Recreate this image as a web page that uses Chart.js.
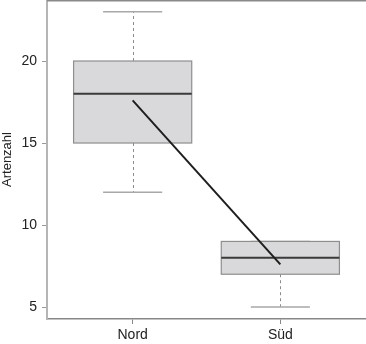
<!DOCTYPE html>
<html>
<head>
<meta charset="utf-8">
<script src="https://cdn.jsdelivr.net/npm/chart.js@4"></script>
<style>
  html, body { margin: 0; padding: 0; background: #fff; }
  #wrap { width: 366px; height: 344px; }
</style>
</head>
<body>
<div id="wrap"><canvas id="chart" width="366" height="344"></canvas></div>
<script>
// ==================== DATA ====================
const categories = ['Nord', 'Süd'];
const positions = [1, 2];
const whiskerLow = [12, 5];
const q1 = [15, 7];
const median = [18, 8];
const q3 = [20, 9];
const whiskerHigh = [23, 9];
const means = [17.6, 7.6];
const yTicks = [5, 10, 15, 20];

// ==================== BOX PLOT PLUGIN ====================
const boxPlugin = {
    id: 'boxes',
    beforeDatasetsDraw(chart) {
        const ctx = chart.ctx;
        const xs = chart.scales.x;
        const ys = chart.scales.y;
        const area = chart.chartArea;

        // top frame line
        ctx.save();
        ctx.strokeStyle = '#8a8a8a';
        ctx.lineWidth = 1.5;
        ctx.beginPath();
        ctx.moveTo(area.left, area.top + 0.75);
        ctx.lineTo(area.right, area.top + 0.75);
        ctx.stroke();

        positions.forEach((p, i) => {
            const cx = Math.round(xs.getPixelForValue(p)) + 0.5;
            const bl = xs.getPixelForValue(p - 0.4);
            const br = xs.getPixelForValue(p + 0.4);
            const cl = xs.getPixelForValue(p - 0.2);
            const cr = xs.getPixelForValue(p + 0.2);
            const yq1 = ys.getPixelForValue(q1[i]);
            const yq3 = ys.getPixelForValue(q3[i]);
            const ymed = ys.getPixelForValue(median[i]);
            const ylo = ys.getPixelForValue(whiskerLow[i]);
            const yhi = ys.getPixelForValue(whiskerHigh[i]);

            // whiskers (dashed)
            ctx.strokeStyle = '#8c8c8c';
            ctx.lineWidth = 1;
            ctx.setLineDash([3, 3]);
            ctx.beginPath();
            ctx.moveTo(cx, yq3); ctx.lineTo(cx, yhi);
            ctx.moveTo(cx, yq1); ctx.lineTo(cx, ylo);
            ctx.stroke();
            ctx.setLineDash([]);

            // caps
            ctx.strokeStyle = '#a8a8a8';
            ctx.lineWidth = 1.5;
            ctx.beginPath();
            ctx.moveTo(cl, yhi); ctx.lineTo(cr, yhi);
            ctx.moveTo(cl, ylo); ctx.lineTo(cr, ylo);
            ctx.stroke();

            // box
            ctx.fillStyle = '#d9d9db';
            ctx.fillRect(bl, yq3, br - bl, yq1 - yq3);
            ctx.strokeStyle = '#8e8e8e';
            ctx.lineWidth = 1.2;
            ctx.strokeRect(bl, yq3, br - bl, yq1 - yq3);

            // median
            ctx.strokeStyle = '#3a3a3a';
            ctx.lineWidth = 2;
            ctx.beginPath();
            ctx.moveTo(bl, ymed); ctx.lineTo(br, ymed);
            ctx.stroke();
        });
        ctx.restore();
    }
};

// ==================== CHART ====================
new Chart(document.getElementById('chart'), {
    type: 'scatter',
    data: {
        datasets: [{
            label: 'Mittelwert',
            data: positions.map((p, i) => ({ x: p, y: means[i] })),
            showLine: true,
            borderColor: '#1e1e1e',
            borderWidth: 2,
            pointRadius: 0
        }]
    },
    options: {
        responsive: false,
        animation: false,
        layout: { padding: 0 },
        plugins: { legend: { display: false }, tooltip: { enabled: false } },
        scales: {
            x: {
                type: 'linear',
                min: 0.42,
                max: 2.58,
                afterBuildTicks: s => { s.ticks = positions.map(v => ({ value: v })); },
                afterFit: s => { s.height = 25; s.paddingLeft = 0; s.paddingRight = 0; },
                ticks: {
                    callback: (v) => categories[positions.indexOf(v)],
                    font: { family: 'Liberation Sans, Arial', size: 14 },
                    color: '#222',
                    padding: 3,
                    autoSkip: false,
                    maxRotation: 0
                },
                grid: { drawOnChartArea: false, tickLength: 5, tickColor: '#888' },
                border: { color: '#888', width: 1.5 }
            },
            y: {
                min: 4.27,
                max: 23.72,
                afterBuildTicks: s => { s.ticks = yTicks.map(v => ({ value: v })); },
                afterFit: s => { s.width = 47; s.paddingTop = 0; s.paddingBottom = 0; },
                ticks: {
                    font: { family: 'Liberation Sans, Arial', size: 14 },
                    color: '#222',
                    padding: 5
                },
                grid: { drawOnChartArea: false, tickLength: 5, tickColor: '#999' },
                border: { color: '#b5b5b5', width: 2 },
                title: {
                    display: true,
                    text: 'Artenzahl',
                    font: { family: 'Liberation Sans, Arial', size: 13 },
                    color: '#222',
                    padding: 0
                }
            }
        }
    },
    plugins: [boxPlugin]
});
</script>
</body>
</html>
